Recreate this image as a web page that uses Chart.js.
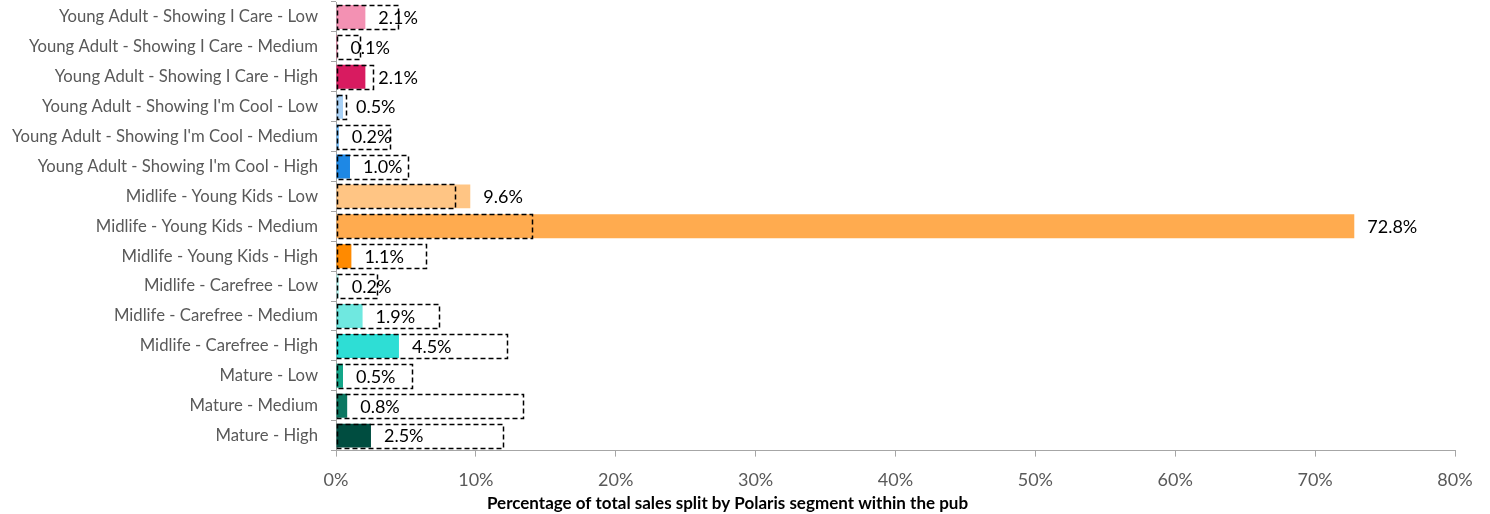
<!DOCTYPE html>
<html>
<head>
<meta charset="utf-8">
<script src="https://cdn.jsdelivr.net/npm/chart.js@4.4.1/dist/chart.umd.min.js"></script>
<style>
  html, body { margin: 0; padding: 0; background: #fff; }
  #chart { display: block; }
</style>
</head>
<body>
<canvas id="chart" width="1490" height="514"></canvas>
<script>
const categories = [
    'Young Adult - Showing I Care - Low',
    'Young Adult - Showing I Care - Medium',
    'Young Adult - Showing I Care - High',
    "Young Adult - Showing I'm Cool - Low",
    "Young Adult - Showing I'm Cool - Medium",
    "Young Adult - Showing I'm Cool - High",
    'Midlife - Young Kids - Low',
    'Midlife - Young Kids - Medium',
    'Midlife - Young Kids - High',
    'Midlife - Carefree - Low',
    'Midlife - Carefree - Medium',
    'Midlife - Carefree - High',
    'Mature - Low',
    'Mature - Medium',
    'Mature - High'
];
// share of pub sales per segment (%)
const pubShare = [2.1, 0.1, 2.1, 0.5, 0.2, 1.0, 9.6, 72.8, 1.1, 0.2, 1.9, 4.5, 0.5, 0.8, 2.5];
// dashed outline = comparison share (%)
const benchmarkShare = [4.4, 1.7, 2.6, 0.65, 3.8, 5.1, 8.5, 14.0, 6.4, 2.9, 7.3, 12.2, 5.4, 13.3, 11.9];
const segmentColours = [
    '#F391B3', '#EC6A96', '#D81B60',
    '#A8D1F6', '#6CB6F4', '#1E88E5',
    '#FFC584', '#FFAB4F', '#FF8A00',
    '#B4F1ED', '#6FE8E0', '#2EDED5',
    '#13A689', '#0B7761', '#004D40'
];
const xTicks = [0, 10, 20, 30, 40, 50, 60, 70, 80];

const axisGrey = '#A6A6A6';
const textGrey = '#595959';

// dashed outline boxes for the comparison series + value labels
const dashedBoxes = {
    id: 'dashedBoxes',
    afterDatasetsDraw(chart) {
        const meta = chart.getDatasetMeta(1);
        const ctx = chart.ctx;
        ctx.save();
        ctx.strokeStyle = '#000';
        ctx.lineWidth = 1.5;
        ctx.setLineDash([5, 3]);
        meta.data.forEach(el => {
            const p = el.getProps(['x', 'y', 'base', 'height'], true);
            ctx.strokeRect(Math.round(p.base) + 0.5, Math.round(p.y - p.height / 2) + 0.5,
                Math.round(p.x - p.base), Math.round(p.height));
        });
        ctx.restore();

        const m0 = chart.getDatasetMeta(0);
        ctx.save();
        ctx.fillStyle = '#000';
        ctx.font = '18px Lato';
        ctx.textAlign = 'left';
        ctx.textBaseline = 'middle';
        m0.data.forEach((el, i) => {
            const p = el.getProps(['x', 'y'], true);
            ctx.fillText(pubShare[i].toFixed(1) + '%', p.x + 13, p.y + 1);
        });
        ctx.restore();
    }
};

new Chart(document.getElementById('chart'), {
    type: 'bar',
    data: {
        labels: categories,
        datasets: [{
            label: 'Pub',
            data: pubShare,
            backgroundColor: segmentColours,
            borderWidth: 0,
            order: 1
        }, {
            label: 'Benchmark',
            data: benchmarkShare,
            backgroundColor: 'rgba(0,0,0,0)',
            borderWidth: 0,
            order: 0
        }]
    },
    options: {
        indexAxis: 'y',
        responsive: false,
        animation: false,
        devicePixelRatio: 1,
        layout: { padding: { top: 2, right: 35, left: 0, bottom: 0 } },
        datasets: {
            bar: { grouped: false, barPercentage: 0.8, categoryPercentage: 1 }
        },
        scales: {
            y: {
                grid: { drawOnChartArea: false, tickLength: 5, color: axisGrey },
                border: { color: axisGrey },
                ticks: { color: textGrey, font: { family: 'Lato', size: 16.7 }, padding: 13, autoSkip: false },
                afterFit(scale) {
                    scale.width = 336;
                    scale.paddingTop = 0;
                    scale.paddingBottom = 0;
                }
            },
            x: {
                min: 0,
                max: 80,
                afterBuildTicks(scale) { scale.ticks = xTicks.map(v => ({ value: v })); },
                grid: { drawOnChartArea: false, tickLength: 6, color: axisGrey },
                border: { color: axisGrey },
                ticks: {
                    color: textGrey,
                    font: { family: 'Lato', size: 18 },
                    padding: 13,
                    callback: v => v + '%'
                },
                afterFit(scale) { scale.height = 43; }
            }
        },
        plugins: {
            legend: { display: false },
            tooltip: { enabled: false },
            title: {
                display: true,
                position: 'bottom',
                text: 'Percentage of total sales split by Polaris segment within the pub',
                color: '#000',
                font: { family: 'Lato', size: 17, weight: 'bold' },
                padding: { top: 0, bottom: 0 }
            }
        }
    },
    plugins: [dashedBoxes]
});
</script>
</body>
</html>
